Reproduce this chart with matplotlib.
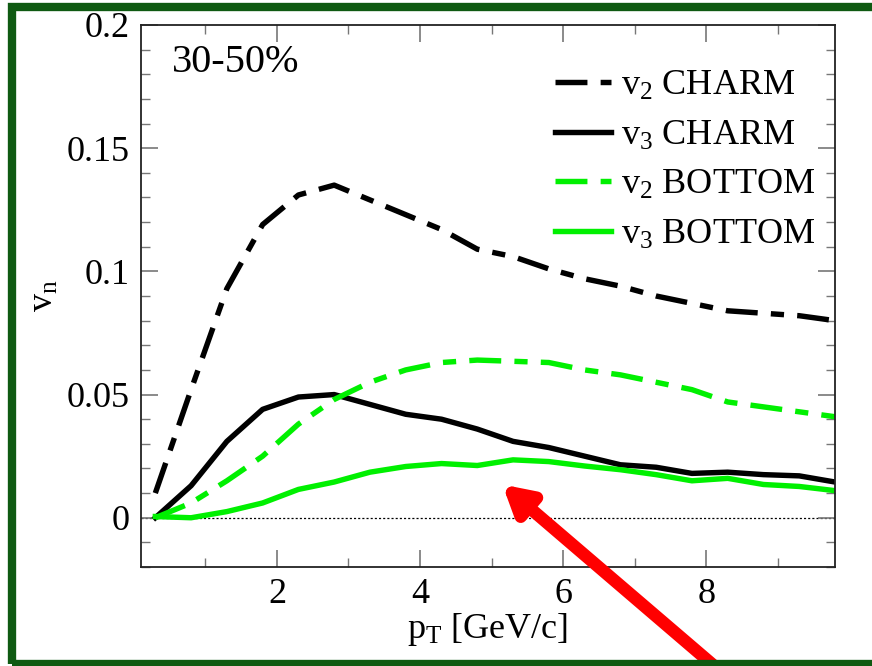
import matplotlib
matplotlib.use('Agg')
import matplotlib.pyplot as plt
from matplotlib.patches import Rectangle
from matplotlib.ticker import MultipleLocator, FormatStrFormatter

plt.rcParams['font.family'] = ['Liberation Serif', 'DejaVu Serif']
plt.rcParams['mathtext.fontset'] = 'custom'
plt.rcParams['mathtext.rm'] = 'Liberation Serif'
plt.rcParams['mathtext.it'] = 'Liberation Serif:italic'
plt.rcParams['lines.scale_dashes'] = False

# pT grid [GeV/c]
pt = [0.3, 0.8, 1.3, 1.8, 2.3, 2.8, 3.3, 3.8, 4.3, 4.8,
      5.3, 5.8, 6.3, 6.8, 7.3, 7.8, 8.3, 8.8, 9.3, 9.8]

v2_charm = [0.010, 0.052, 0.093, 0.119, 0.131, 0.135, 0.129, 0.123, 0.117, 0.109,
            0.106, 0.101, 0.097, 0.094, 0.090, 0.087, 0.084, 0.083, 0.082, 0.080]
v3_charm = [0.000, 0.013, 0.031, 0.044, 0.049, 0.050, 0.046, 0.042, 0.040, 0.036,
            0.031, 0.0285, 0.025, 0.0215, 0.0205, 0.018, 0.0185, 0.0175, 0.017, 0.0145]
v2_bottom = [0.000, 0.006, 0.015, 0.025, 0.038, 0.048, 0.055, 0.060, 0.063, 0.064,
             0.0635, 0.063, 0.060, 0.058, 0.055, 0.052, 0.047, 0.045, 0.043, 0.041]
v3_bottom = [0.0005, 0.000, 0.0025, 0.006, 0.0115, 0.0145, 0.0185, 0.0208, 0.022, 0.0212,
             0.0235, 0.0228, 0.021, 0.0195, 0.0175, 0.015, 0.016, 0.0135, 0.0127, 0.011]

centrality = '30-50%'
labels = [r'v$_2$ CHARM', r'v$_3$ CHARM', r'v$_2$ BOTTOM', r'v$_3$ BOTTOM']

green = '#00f000'
dashdot = (0, (23, 9.5, 9.5, 9.5))

fig = plt.figure(figsize=(8.72, 6.66), dpi=100)
ax = fig.add_axes([0.1617, 0.1486, 0.7959, 0.8139])

lw = 3.9
ax.axhline(0, color='black', lw=0.9, ls=(0, (1.5, 1.5)), zorder=1)
ax.plot(pt, v2_charm, color='black', lw=lw, ls=dashdot, dash_capstyle='butt', label=labels[0])
ax.plot(pt, v3_charm, color='black', lw=lw, label=labels[1])
ax.plot(pt, v2_bottom, color=green, lw=lw, ls=dashdot, dash_capstyle='butt', label=labels[2])
ax.plot(pt, v3_bottom, color=green, lw=lw, label=labels[3])

ax.set_xlim(0.1, 9.8)
ax.set_ylim(-0.02, 0.2)
ax.xaxis.set_major_locator(MultipleLocator(2))
ax.xaxis.set_minor_locator(MultipleLocator(1))
ax.yaxis.set_major_locator(MultipleLocator(0.05))
ax.yaxis.set_minor_locator(MultipleLocator(0.01))
ax.yaxis.set_major_formatter(FormatStrFormatter('%g'))
ax.tick_params(which='both', direction='in', top=True, right=True, color='#777777')
ax.tick_params(which='major', length=12, width=1.2, labelsize=26, pad=8)
ax.tick_params(which='minor', length=6.5, width=1.0)
for s in ax.spines.values():
    s.set_linewidth(1.3)
    s.set_color('#222222')

ax.set_xlabel(r'p$_\mathrm{T}$ [GeV/c]', fontsize=26, labelpad=0)
ax.set_ylabel(r'v$_\mathrm{n}$', fontsize=26, labelpad=4)

ax.text(0.045, 0.965, centrality, transform=ax.transAxes, fontsize=29, va='top', ha='left')

leg = ax.legend(loc='upper right', bbox_to_anchor=(0.993, 0.944), frameon=False,
                fontsize=26, handlelength=1.55, handletextpad=0.3, labelspacing=0.45,
                borderaxespad=0)

# red arrow pointing at the v3 bottom curve
ax.annotate('', xy=(5.15, 0.0135), xycoords='data',
            xytext=(0.828, -0.01), textcoords='figure fraction',
            arrowprops=dict(arrowstyle='-|>,head_length=1.6,head_width=0.9',
                            color='#ff0000', lw=9, shrinkA=0, shrinkB=0),
            annotation_clip=False)

# dark green frame around the whole figure
fig.patches.append(Rectangle((12 / 872, 1 - 664 / 666), 1.2, 657 / 666,
                             transform=fig.transFigure, fill=False,
                             edgecolor='#0f5a12', lw=6, zorder=10))

fig.savefig('out.png', dpi=100)
